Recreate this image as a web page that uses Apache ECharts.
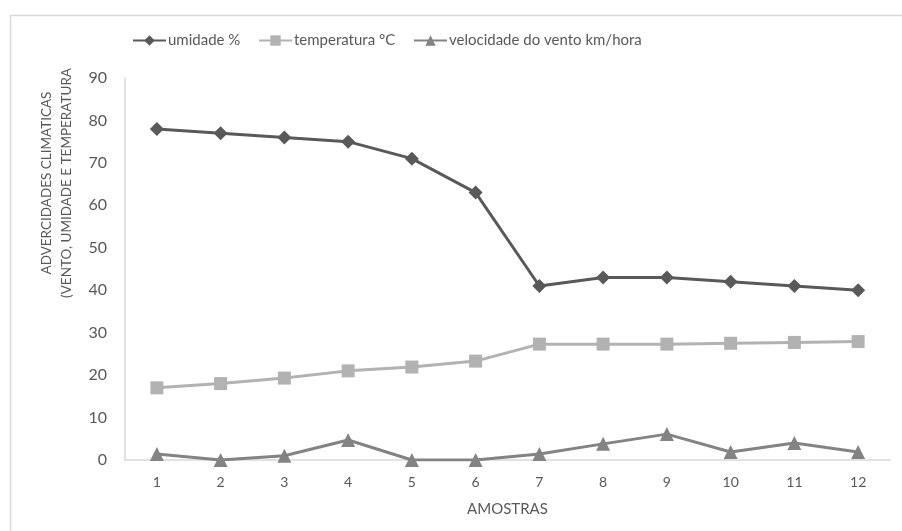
<!DOCTYPE html>
<html>
<head>
<meta charset="utf-8">
<script src="https://cdn.jsdelivr.net/npm/echarts@6/dist/echarts.min.js"></script>
<style>
  html, body { margin: 0; padding: 0; background: #ffffff; }
  #chart { width: 902px; height: 531px; }
</style>
</head>
<body>
<div id="chart"></div>
<script>
// Samples along the x axis
const amostras = ['1', '2', '3', '4', '5', '6', '7', '8', '9', '10', '11', '12'];

// Series values per sample
const umidade = [78, 77, 76, 75, 71, 63, 41, 43, 43, 42, 41, 40];
const temperatura = [17, 18, 19.3, 21, 21.9, 23.3, 27.3, 27.3, 27.3, 27.5, 27.7, 27.9];
const velocidadeVento = [1.4, 0, 1, 4.7, 0, 0, 1.4, 3.8, 6.1, 1.9, 4, 1.9];

// Series names, as shown in the legend
const nomes = ['umidade %', 'temperatura °C', 'velocidade do vento km/hora'];

// Y axis ticks
const yMin = 0, yMax = 90, yStep = 10;

const FONT = "Lato, 'Open Sans', sans-serif";
const TEXT = '#595959';

const chart = echarts.init(document.getElementById('chart'), null, { renderer: 'canvas' });

const diamond = 'path://M0,-1 L1,0 L0,1 L-1,0 Z';

// one legend block per series so each can sit at its own x
const legendAt = [132, 258, 413].map((x, i) => ({
  top: 33,
  left: x,
  padding: 0,
  itemWidth: 33,
  itemHeight: 13,
  itemGap: 0,
  textStyle: { color: TEXT, fontSize: 15, fontFamily: FONT, padding: [0, 0, 0, -3] },
  data: [nomes[i]]
}));

chart.setOption({
  backgroundColor: '#ffffff',
  animation: false,
  textStyle: { fontFamily: FONT },
  graphic: [{
    type: 'rect',
    left: 8, top: 13,
    shape: { width: 1000, height: 1000 },
    style: { fill: 'none', stroke: '#d9d9d9', lineWidth: 1.5 },
    silent: true
  }],
  legend: legendAt,
  grid: { left: 125, right: 12, top: 78, bottom: 71 },
  xAxis: {
    type: 'category',
    data: amostras,
    boundaryGap: true,
    name: 'AMOSTRAS',
    nameLocation: 'middle',
    nameGap: 42,
    nameTextStyle: { color: TEXT, fontSize: 15, fontFamily: FONT },
    axisLine: { lineStyle: { color: '#d9d9d9', width: 1.5 } },
    axisTick: { show: false },
    axisLabel: { color: TEXT, fontSize: 14, margin: 15, fontFamily: FONT }
  },
  yAxis: {
    type: 'value',
    min: yMin, max: yMax, interval: yStep,
    name: 'ADVERCIDADES CLIMATICAS\n(VENTO, UMIDADE E TEMPERATURA',
    nameLocation: 'middle',
    nameGap: 48,
    nameRotate: 90,
    // left padding lifts the rotated title towards the top of the axis
    nameTextStyle: { color: TEXT, fontSize: 13.5, fontFamily: FONT, lineHeight: 20, padding: [0, 0, 0, 172] },
    axisLine: { show: true, lineStyle: { color: '#d9d9d9', width: 1.5 } },
    axisTick: { show: false },
    splitLine: { show: false },
    axisLabel: { color: TEXT, fontSize: 16, margin: 18, fontFamily: FONT }
  },
  series: [
    {
      name: nomes[0],
      type: 'line',
      data: umidade,
      symbol: diamond,
      symbolSize: 14,
      itemStyle: { color: '#595959' },
      lineStyle: { color: '#595959', width: 3 }
    },
    {
      name: nomes[1],
      type: 'line',
      data: temperatura,
      symbol: 'rect',
      symbolSize: 13,
      itemStyle: { color: '#b2b2b2' },
      lineStyle: { color: '#b2b2b2', width: 3 }
    },
    {
      name: nomes[2],
      type: 'line',
      data: velocidadeVento,
      symbol: 'triangle',
      symbolSize: 14,
      itemStyle: { color: '#838383' },
      lineStyle: { color: '#838383', width: 3 }
    }
  ]
});
</script>
</body>
</html>
